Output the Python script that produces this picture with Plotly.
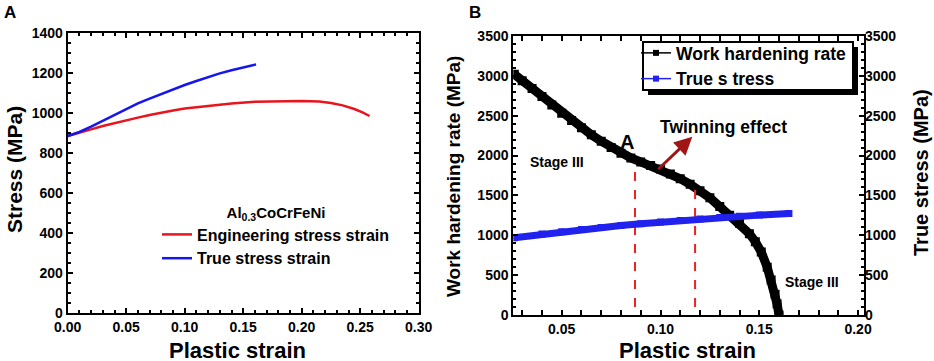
import plotly.graph_objects as go

W, H = 934, 361

# ---- Panel A data ----
strain_true = [0.0, 0.01, 0.02, 0.03, 0.04, 0.05, 0.06, 0.07, 0.08, 0.09, 0.10, 0.11, 0.12, 0.13, 0.14, 0.15, 0.161]
stress_true = [885, 905, 932, 962, 992, 1022, 1048, 1072, 1096, 1118, 1140, 1160, 1180, 1198, 1214, 1228, 1243]
strain_eng = [0.0, 0.01, 0.02, 0.03, 0.04, 0.05, 0.06, 0.07, 0.08, 0.09, 0.10, 0.12, 0.14, 0.16, 0.18, 0.20, 0.215, 0.225, 0.235, 0.245, 0.252, 0.258]
stress_eng = [885, 900, 918, 935, 950, 963, 977, 990, 1002, 1013, 1022, 1036, 1048, 1056, 1059, 1060, 1058, 1050, 1038, 1020, 1003, 985]

# ---- Panel B data ----
strain_whr = [0.026, 0.03, 0.035, 0.04, 0.045, 0.05, 0.055, 0.06, 0.065, 0.07, 0.075, 0.08, 0.085, 0.09, 0.095, 0.10, 0.105, 0.11, 0.115, 0.12, 0.125, 0.13, 0.135, 0.14, 0.145, 0.148, 0.151, 0.154, 0.156, 0.158, 0.159, 0.160]
whr = [3020, 2940, 2840, 2740, 2635, 2530, 2440, 2350, 2260, 2180, 2100, 2030, 1970, 1920, 1875, 1830, 1770, 1710, 1640, 1560, 1470, 1360, 1250, 1150, 1020, 920, 790, 600, 440, 260, 140, 0]
strain_ts = [0.026, 0.04, 0.05, 0.06, 0.07, 0.08, 0.09, 0.10, 0.11, 0.12, 0.13, 0.14, 0.15, 0.165]
true_stress = [970, 1015, 1045, 1072, 1098, 1122, 1145, 1166, 1186, 1205, 1222, 1238, 1253, 1272]

# dashed markers (strain positions, bottom and top values)
dash_x = [0.0871, 0.1175]
dash_bottom = [100, 100]
dash_top = [1910, 1593]

fontfam = "Arial, Liberation Sans, sans-serif"
bold = dict(family=fontfam, size=14, color="black", weight="bold")

fig = go.Figure()

fig.add_trace(go.Scatter(x=strain_eng, y=stress_eng, mode="lines", line=dict(color="#e8141e", width=2.5),
                         name="Engineering stress strain", xaxis="x", yaxis="y", legend="legend"))
fig.add_trace(go.Scatter(x=strain_true, y=stress_true, mode="lines", line=dict(color="#1515f0", width=2.5),
                         name="True stress strain", xaxis="x", yaxis="y", legend="legend"))

fig.add_trace(go.Scatter(x=strain_whr, y=whr, mode="lines+markers", line=dict(color="black", width=9),
                         marker=dict(symbol="square", size=9, color="black"),
                         name="Work hardening rate", showlegend=False, xaxis="x2", yaxis="y2"))
fig.add_trace(go.Scatter(x=strain_ts, y=true_stress, mode="lines+markers", line=dict(color="#2222ee", width=7),
                         marker=dict(symbol="square", size=7, color="#2222ee"),
                         name="True stress", showlegend=False, xaxis="x2", yaxis="y3"))
# legend-only entries (thin line + square symbol as in the reference key)
fig.add_trace(go.Scatter(x=[None], y=[None], mode="lines+markers", line=dict(color="black", width=1.5),
                         marker=dict(symbol="square", size=6, color="black"),
                         name="Work hardening rate", xaxis="x2", yaxis="y2", legend="legend2"))
fig.add_trace(go.Scatter(x=[None], y=[None], mode="lines+markers", line=dict(color="#2222ee", width=1.5),
                         marker=dict(symbol="square", size=6, color="#2222ee"),
                         name="True s tress", xaxis="x2", yaxis="y3", legend="legend2"))

for xv, bot, top in zip(dash_x, dash_bottom, dash_top):
    fig.add_trace(go.Scatter(x=[xv, xv], y=[bot, top], mode="lines", line=dict(color="#ee2222", width=2, dash="dash"),
                             showlegend=False, xaxis="x2", yaxis="y2"))

axis_common = dict(showline=True, linecolor="black", linewidth=2, mirror="allticks", ticks="inside",
                   ticklen=5, tickwidth=1.5, tickcolor="black", showgrid=False, zeroline=False,
                   tickfont=bold, automargin=False)

xA = [67.7 / W, 418.7 / W]
yA = [(H - 313) / H, (H - 33) / H]
xB = [513.3 / W, 864 / W]
yB = [(H - 315) / H, (H - 36) / H]

fig.update_layout(
    width=W, height=H, margin=dict(l=0, r=0, t=0, b=0, pad=0, autoexpand=False),
    paper_bgcolor="white", plot_bgcolor="rgba(0,0,0,0)",
    xaxis=dict(domain=xA, range=[0, 0.30], dtick=0.05, tickformat=".2f",
               minor=dict(dtick=0.01, ticks="inside", ticklen=3, tickcolor="black"), anchor="y", **axis_common),
    yaxis=dict(domain=yA, range=[0, 1400], dtick=200,
               minor=dict(dtick=50, ticks="inside", ticklen=3, tickcolor="black"), anchor="x", **axis_common),
    xaxis2=dict(domain=xB, range=[0.0255, 0.203], tickvals=[0.05, 0.10, 0.15, 0.20], tickformat=".2f",
                minor=dict(dtick=0.01, tick0=0, ticks="inside", ticklen=3, tickcolor="black"), anchor="y2", **axis_common),
    yaxis2=dict(domain=yB, range=[0, 3500], dtick=500,
                minor=dict(dtick=100, ticks="inside", ticklen=3, tickcolor="black"), anchor="x2", **axis_common),
    yaxis3=dict(range=[0, 3500], dtick=500, overlaying="y2", side="right", anchor="x2",
                minor=dict(dtick=100, ticks="inside", ticklen=3, tickcolor="black"),
                showline=False, ticks="inside", ticklen=5, tickwidth=1.5, tickcolor="black",
                showgrid=False, zeroline=False, tickfont=bold, automargin=False),
    legend=dict(x=157 / W, y=1 - 198 / H, xanchor="left", yanchor="top", bgcolor="rgba(0,0,0,0)",
                borderwidth=0, font=dict(family=fontfam, size=16, color="black", weight="bold"),
                title=dict(text="Al<sub>0.3</sub>CoCrFeNi", side="top center",
                           font=dict(family=fontfam, size=15, color="black", weight="bold")),
                tracegroupgap=0, itemwidth=30),
    legend2=dict(x=636 / W, y=1 - 35 / H, xanchor="left", yanchor="top", bgcolor="rgba(0,0,0,0)",
                 borderwidth=0,
                 font=dict(family=fontfam, size=17.5, color="black", weight="bold"),
                 tracegroupgap=0, itemwidth=30),
)

# legend box with drop shadow (drawn beneath the legend text)
fig.add_shape(type="rect", xref="paper", yref="paper",
              x0=648 / W, x1=858 / W, y0=1 - 95 / H, y1=1 - 47 / H,
              fillcolor="black", line=dict(width=0), layer="below")
fig.add_shape(type="rect", xref="paper", yref="paper",
              x0=643 / W, x1=853 / W, y0=1 - 90 / H, y1=1 - 42 / H,
              fillcolor="white", line=dict(width=2, color="black"), layer="below")

lab = dict(family=fontfam, color="black", weight="bold")
ann = []
ann.append(dict(text="A", x=2 / W, y=1 - 1 / H, xref="paper", yref="paper", xanchor="left", yanchor="top",
                showarrow=False, font=dict(size=17, **lab)))
ann.append(dict(text="B", x=467 / W, y=1 - 1 / H, xref="paper", yref="paper", xanchor="left", yanchor="top",
                showarrow=False, font=dict(size=17, **lab)))
ann.append(dict(text="Plastic strain", x=238 / W, y=1 - 350 / H, xref="paper", yref="paper",
                xanchor="center", yanchor="middle", showarrow=False, font=dict(size=22, **lab)))
ann.append(dict(text="Plastic strain", x=687 / W, y=1 - 350 / H, xref="paper", yref="paper",
                xanchor="center", yanchor="middle", showarrow=False, font=dict(size=22, **lab)))
ann.append(dict(text="Stress (MPa)", x=15 / W, y=1 - 170 / H, xref="paper", yref="paper", textangle=-90,
                xanchor="center", yanchor="middle", showarrow=False, font=dict(size=21, **lab)))
ann.append(dict(text="Work hardening rate (MPa)", x=453 / W, y=1 - 177 / H, xref="paper", yref="paper", textangle=-90,
                xanchor="center", yanchor="middle", showarrow=False, font=dict(size=19, **lab)))
ann.append(dict(text="True stress (MPa)", x=921 / W, y=1 - 173 / H, xref="paper", yref="paper", textangle=-90,
                xanchor="center", yanchor="middle", showarrow=False, font=dict(size=20, **lab)))
ann.append(dict(text="Stage III", x=0.0476, y=1919, xref="x2", yref="y2", showarrow=False,
                font=dict(size=14, **lab)))
ann.append(dict(text="Stage III", x=0.1767, y=414, xref="x2", yref="y2", showarrow=False,
                font=dict(size=14, **lab)))
ann.append(dict(text="A", x=0.083, y=2170, xref="x2", yref="y2", showarrow=False,
                font=dict(size=20, **lab)))
ann.append(dict(text="Twinning effect", x=0.1321, y=2358, xref="x2", yref="y2", showarrow=False,
                font=dict(size=17.5, **lab)))
ann.append(dict(text="", x=0.1161, y=2237, ax=0.0981, ay=1810, xref="x2", yref="y2", axref="x2", ayref="y2",
                showarrow=True, arrowhead=2, arrowsize=1.2, arrowwidth=3, arrowcolor="#a01515"))
fig.update_layout(annotations=ann)

fig.write_html("out.html", config={"displayModeBar": False},
               post_script="document.body.style.margin='0';document.body.style.overflow='hidden';")
